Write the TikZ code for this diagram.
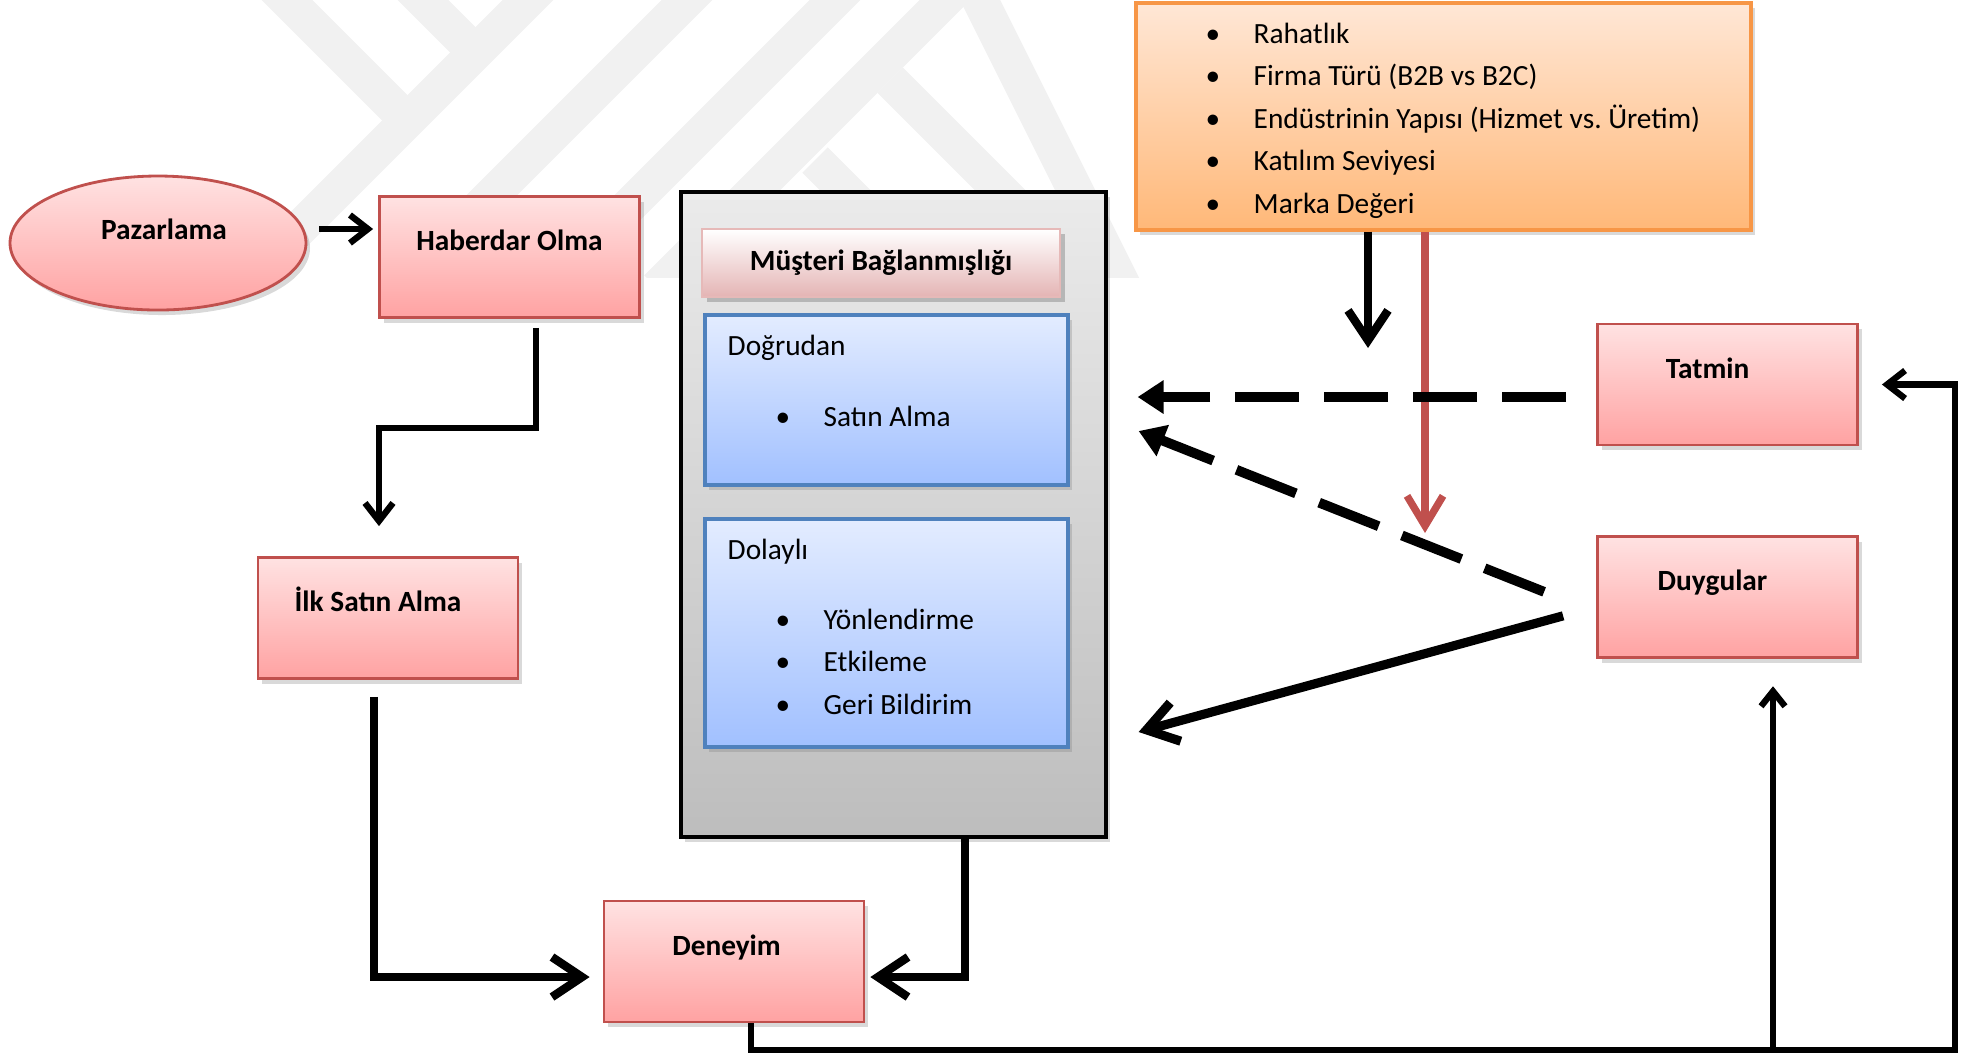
\documentclass[tikz,border=0pt]{standalone}
\usepackage{fontspec}
\setmainfont{Carlito}
\usepackage{tikz}
\usetikzlibrary{arrows.meta,positioning,calc,shapes.geometric,shadows}
\definecolor{pinkTop}{HTML}{FFE2E2}
\definecolor{pinkBot}{HTML}{FFA2A2}
\definecolor{pinkLine}{HTML}{C0504D}
\definecolor{blueTop}{HTML}{E3ECFF}
\definecolor{blueBot}{HTML}{A1C0FF}
\definecolor{blueLine}{HTML}{4F81BD}
\definecolor{orangeTop}{HTML}{FFE7D6}
\definecolor{orangeBot}{HTML}{FFB878}
\definecolor{orangeLine}{HTML}{F79646}
\definecolor{grayTop}{HTML}{EBEBEB}
\definecolor{grayBot}{HTML}{BDBDBD}
\definecolor{headBot}{HTML}{E4B4B4}
\definecolor{headLine}{HTML}{E6B9B8}
\definecolor{wmark}{HTML}{F1F1F1}
\newcommand{\blt}{\makebox[0.48cm][l]{\textbullet}}

\begin{document}
\begin{tikzpicture}[
    every node/.style={font=\fontsize{8.35}{12.1}\selectfont},
    boxshadow/.style={drop shadow={shadow xshift=0.04cm,shadow yshift=-0.05cm,opacity=0.3}},
    pinkbox/.style={rectangle,draw=pinkLine,line width=0.8pt,top color=pinkTop,bottom color=pinkBot,
      minimum width=2.6cm,minimum height=1.21cm,inner sep=0pt,text height=0.54cm,text depth=0.67cm,
      font=\fontsize{8.35}{12.1}\selectfont\bfseries,boxshadow},
    bluebox/.style={rectangle,draw=blueLine,line width=0.9pt,top color=blueTop,bottom color=blueBot,
      minimum width=3.63cm,inner sep=0pt,boxshadow},
    listline/.style={anchor=base west,inner sep=0pt},
    arrs/.style={line width=1.8pt,-{Straight Barb[length=0.18cm,width=0.28cm]}},
    arrb/.style={line width=2.4pt,-{Straight Barb[length=0.3cm,width=0.4cm]}},
    dsh/.style={line width=2.8pt,dash pattern=on 0.64cm off 0.25cm,-{Triangle[length=0.26cm,width=0.32cm]}},
    redarr/.style={draw=pinkLine,line width=2.1pt,-{Straight Barb[length=0.3cm,width=0.36cm]}}
  ]
  \useasboundingbox (0,0) rectangle (19.70,-10.58);
  %% faint logo in the background
  \begin{scope}
    \clip (0,0) rectangle (19.70,-2.77);
    \foreach \xa/\ya/\xb/\yb in {5.60/0.32/2.40/-2.88, 2.50/0.37/4.07/-1.20, 3.90/0.33/4.755/-0.525,
        7.20/0.33/3.99/-2.88, 8.70/0.35/5.47/-2.88, 9.80/0.35/6.57/-2.88,
        9.75/0.10/11.25/-2.90, 8.90/-0.80/11.00/-2.90, 8.15/-1.60/9.45/-2.90}
      \draw[wmark,line width=0.36cm] (\xa,\ya) -- (\xb,\yb);
  \end{scope}

  %% left chain
  \node[ellipse,draw=pinkLine,line width=0.8pt,top color=pinkTop,bottom color=pinkBot,
    minimum width=2.96cm,minimum height=1.34cm,inner sep=0pt,boxshadow] (pazar) at (1.58,-2.43) {};
  \node[font=\fontsize{8.35}{12.1}\selectfont\bfseries] (pazarT) at ([shift={(0.06,0.14)}]pazar.center) {Pazarlama};
  \node[pinkbox] (haber) at (5.095,-2.57) {Haberdar Olma};
  \node[pinkbox] (ilk) at (3.88,-6.18) {İlk Satın Alma\hspace*{0.2cm}};
  \node[pinkbox] (deney) at (7.34,-9.615) {Deneyim\hspace*{0.15cm}};

  %% middle block
  \node[rectangle,draw=black,line width=0.9pt,top color=grayTop,bottom color=grayBot,
    minimum width=4.25cm,minimum height=6.45cm,boxshadow] (musteri) at (8.935,-5.145) {};
  \node[rectangle,draw=headLine,line width=0.8pt,top color=white,bottom color=headBot,
    minimum width=3.58cm,minimum height=0.68cm,inner sep=0pt,font=\fontsize{8.35}{12.1}\selectfont\bfseries,
    drop shadow={shadow xshift=0.05cm,shadow yshift=-0.05cm,opacity=0.45}] (baslik) at (8.81,-2.63) {Müşteri Bağlanmışlığı};
  \node[bluebox,minimum height=1.70cm] (dogru) at (8.865,-4.00) {};
  \node[bluebox,minimum height=2.28cm] (dolay) at (8.865,-6.33) {};
  \node[listline] (dogruT) at (7.27,-3.55) {Doğrudan};
  \node[listline] (dogru1) at (7.75,-4.26) {\blt Satın Alma};
  \node[listline] (dolayT) at (7.27,-5.59) {Dolaylı};
  \foreach \txt [count=\i] in {{Yönlendirme},{Etkileme},{Geri Bildirim}}
    \node[listline] (dolay\i) at (7.75,{-6.29-0.425*(\i-1)}) {\blt\txt};

  %% factors and right side
  \node[rectangle,draw=orangeLine,line width=0.9pt,top color=orangeTop,bottom color=orangeBot,
    minimum width=6.15cm,minimum height=2.27cm,boxshadow] (faktor) at (14.435,-1.165) {};
  \foreach \txt [count=\i] in {{Rahatlık},{Firma Türü (B2B vs B2C)},{Endüstrinin Yapısı (Hizmet vs.\ Üretim)},{Katılım Seviyesi},{Marka Değeri}}
    \node[listline] (faktor\i) at (12.05,{-0.43-0.425*(\i-1)}) {\blt\txt};
  \node[pinkbox] (tatmin) at (17.275,-3.845) {Tatmin\hspace*{0.4cm}};
  \node[pinkbox,below=0.89cm of tatmin] (duygu) {Duygular\hspace*{0.3cm}};

  %% connectors
  \coordinate (donus) at (19.55,-10.50);
  \coordinate (okucu) at (13.68,-3.48);
  \coordinate (kirmizi) at (14.25,-5.33);
  \draw[arrs] ([shift={(0.12,0.14)}]pazar.east) coordinate (a1) -- ($(haber.west |- a1)+(-0.05,0)$);
  \draw[arrs] ([shift={(0.265,-0.09)}]haber.south) -- ++(0,-1.0) -| ([shift={(-0.09,0.30)}]ilk.north);
  \draw[arrb] ([shift={(-0.14,-0.17)}]ilk.south) |- ([shift={(-0.13,-0.155)}]deney.west);
  \draw[arrb] ([xshift=0.715cm]musteri.south) |- ([shift={(0.05,-0.155)}]deney.east);
  \draw[arrs] ([xshift=0.17cm]deney.south) |- (donus) |- ([xshift=0.23cm]tatmin.east);
  \draw[arrs,-{Straight Barb[length=0.15cm,width=0.24cm]}] ($(duygu.south |- donus)+(0.455,0)$) -- ([shift={(0.455,-0.27)}]duygu.south);
  \draw[arrb] (okucu |- faktor.south) -- (okucu);
  \draw[redarr] (kirmizi |- faktor.south) -- (kirmizi);
  \draw[dsh] ([shift={(-0.30,-0.125)}]tatmin.west) coordinate (t1) -- ($(musteri.east |- t1)+(0.30,0)$);
  \draw[dsh] ([shift={(-0.52,0.055)}]duygu.west) -- ([shift={(0.31,0.835)}]musteri.east);
  \draw[arrb,line width=2.6pt] ([shift={(-0.33,-0.185)}]duygu.west) -- ([shift={(0.31,-2.175)}]musteri.east);
\end{tikzpicture}
\end{document}
